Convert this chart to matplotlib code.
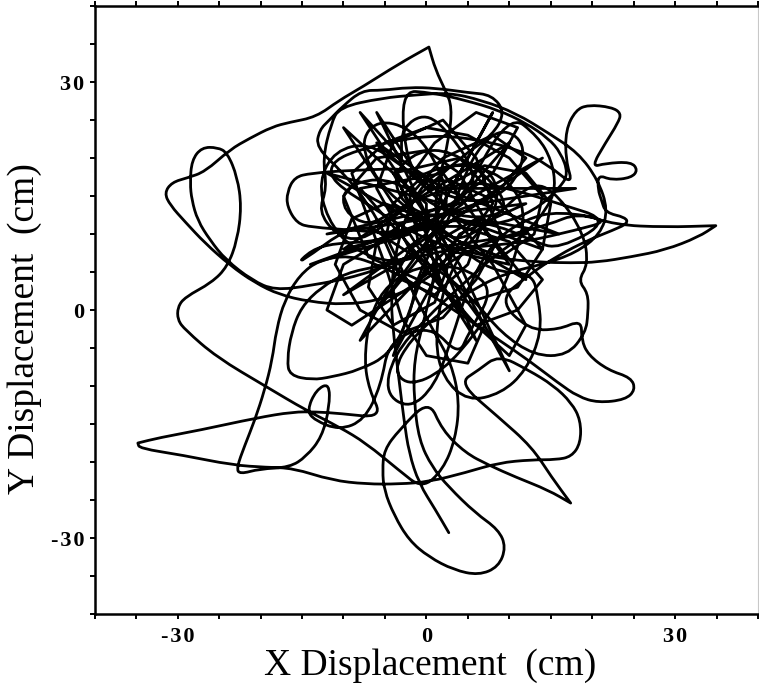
import matplotlib
matplotlib.use("Agg")
import matplotlib.pyplot as plt
import numpy as np
from matplotlib.ticker import FixedLocator, MultipleLocator, FixedFormatter
from matplotlib.path import Path
from matplotlib.patches import PathPatch

plt.rcParams['font.family'] = ['Liberation Serif', 'DejaVu Serif']

# ---- data (cm) ----
seg_center_to_spike = [(2.7,-29.3),(1.1,-26.3),(-0.9,-22.8),(-2.1,-18.8),(-2.7,-14.5),(-3.3,-9.2),(-3.9,-3.9),
    (-4.3,1.3),(-3.9,6.6),(-2.7,11.8),(-0.9,15.8),(1.5,18.4),(5.1,19.5),(7.5,18.4),(8.7,15.8),(8.1,12.5),
    (5.7,9.9),(2.7,9.2),(0.9,12.5),(1.5,17.1),(2.7,22.4),(3.1,26.7),(2.3,28.9),(1.1,31.6),(0.3,34.6),(0.3,34.6),
    (-3.3,32.4),(-7.8,29.3),(-10.5,27.6),(-13.3,25.4),(-16.5,24.7),(-18.6,24.1),(-21.3,22.6),(-23.7,21.1),
    (-26.7,18.2),(-28.8,17.4),(-30.7,16.8),(-31.6,15.4),(-30.9,13.8),(-29.1,11.6),(-26.7,8.8),(-23.7,5.9),
    (-20.7,3.6),(-17.7,2.0),(-14.1,1.1),(-9.9,0.7),(-5.7,1.3),(-2.1,2.6),(1.5,5.3),(5.1,7.9),(9.9,9.9),
    (14.7,11.2),(18.3,12.8),(22.8,11.2),(28.8,10.9),(34.9,11.1),(34.9,11.1),(32.8,9.6),(28.8,7.9),(24.7,7.0),(20.7,6.3),
    (17.5,6.2),(13.5,6.3),(8.7,6.8),(3.9,7.9),(0.3,9.2),(-3.3,11.2),(-6.9,13.8),(-9.9,15.8),(-11.7,17.8),
    (-11.1,19.7),(-8.1,21.1),(-3.3,22.4),(1.5,23.0),(6.3,22.4),(11.1,21.1),(14.7,19.1),(17.7,16.4)]

seg_petal = [(16.8,19.7),(16.8,23.7),(18.0,26.3),(19.5,27.0),(22.3,26.7),(23.5,25.9),(23.1,24.6),(21.6,22.0),
    (19.9,18.8),(21.6,19.3),(24.7,19.5),(25.5,18.4),(24.7,17.4),(22.3,17.1),(20.7,17.8),(20.7,15.8),(21.1,14.5),
    (21.6,12.8),(24.0,12.2),(24.3,11.4),(22.5,10.5),(19.5,9.2),(15.9,7.2),(12.3,4.6),(8.7,1.3)]

seg_right_loop = [(12.3,-2.6),(15.9,-2.6),(18.7,-1.3),(18.7,-3.9),(19.5,-5.9),(21.9,-7.9),(24.7,-8.9),(25.2,-10.5),
    (24.0,-11.8),(20.7,-12.2),(18.3,-11.4),(15.9,-9.6),(12.3,-6.6),(8.7,-3.9),(5.1,-1.3),(1.5,1.3),(-2.1,3.9),
    (-5.7,5.9),(-9.3,7.2)]

seg_lower_left = [(-12.9,6.6),(-15.3,4.6),(-17.1,1.3),(-18.1,-2.6),(-18.6,-6.6),(-19.5,-10.5),(-20.7,-14.5),
    (-21.9,-17.8),(-22.9,-20.8),(-22.5,-21.6),(-20.1,-20.9),(-16.5,-20.7),(-14.5,-19.3),(-12.6,-16.7),(-11.7,-12.8),
    (-11.7,-9.6),(-13.3,-10.5),(-14.4,-13.2),(-13.5,-14.5),(-10.5,-15.8),(-7.5,-14.5),(-5.5,-10.0),(-4.5,-4.0)]

seg_left_spike = [(0.5,-2.0),(3.9,-6.0),(5.1,-3.0),(8.1,2.6),(5.1,5.3),(1.5,5.9),(-2.1,5.3),(-5.3,2.6),(-6.9,-1.3),
    (-7.5,-6.6),(-6.9,-10.5),(-5.3,-14.2),(-10.5,-13.6),(-13.3,-13.4),(-16.1,-13.4),(-20.5,-14.2),(-27.3,-15.8),
    (-32.2,-16.8),(-34.8,-17.5),(-34.8,-17.5),(-34.6,-18.2),(-29.4,-19.1),(-23.4,-20.4),(-19.3,-20.7),(-16.1,-20.8),(-11.4,-22.4),
    (-7.3,-22.9),(-3.3,-22.9),(0.3,-22.6),(4.7,-21.4),(8.7,-20.1),(12.7,-19.7),(15.6,-19.7),(17.5,-19.3),
    (18.6,-17.5),(18.6,-14.5),(17.5,-12.2),(15.3,-9.9),(12.3,-7.9),(8.7,-5.9),(6.3,-7.9),(3.9,-9.6),(8.7,-14.1),
    (12.7,-18.0),(15.1,-22.0),(17.4,-25.4),(17.4,-25.4),(14.7,-23.7),(10.8,-22.0),(7.5,-20.4),(4.7,-18.8),(1.9,-15.8),(0.3,-11.8)]

seg_bottom_loop = [(-3.3,-15.8),(-5.1,-18.4),(-5.3,-21.1),(-5.1,-23.7),(-3.9,-27.0),(-2.1,-30.3),(0.3,-32.5),
    (3.3,-34.2),(6.3,-34.9),(8.7,-33.8),(9.6,-31.2),(8.7,-28.9),(5.9,-26.7),(2.7,-23.3),(0.7,-20.7),(-0.9,-17.1),
    (-1.5,-11.8),(-1.5,-6.6),(-0.3,-1.3),(0.9,3.9),(1.5,9.2),(-2.0,7.0),(-8.0,4.5),(-14.0,3.2),(-18.3,2.6)]

seg_top_left_loop = [(-21.0,3.9),(-24.2,6.6),(-26.1,9.2),(-27.6,11.8),(-28.3,14.5),(-28.5,16.7),(-28.3,19.7),
    (-27.1,21.4),(-25.2,21.4),(-24.0,20.7),(-22.8,17.5),(-22.3,13.6),(-22.8,9.2),(-24.0,5.7),(-25.9,3.6),
    (-29.1,1.7),(-30.0,0.4),(-30.0,-1.3),(-29.1,-2.6),(-25.3,-6.2),(-19.3,-10.1),(-14.5,-13.2),(-10.5,-15.4),
    (-7.3,-17.5),(-3.3,-21.1),(-0.5,-23.5),(2.0,-21.0),(3.5,-17.0),(4.0,-12.0),(3.0,-7.0),(1.0,-3.0)]

seg_top_arcs = [(-2.0,3.0),(-4.5,9.0),(-7.0,14.0),(-10.0,18.0),(-13.3,21.4),(-12.9,23.7),(-11.7,25.0),
    (-10.2,26.7),(-7.8,28.9),(-5.3,28.9),(-2.1,29.3),(1.1,29.2),(5.1,28.6),(7.9,28.3),(9.5,26.0),(8.0,23.0),
    (4.0,20.0),(0.0,16.0),(-4.0,12.0),(-8.0,9.0),(-11.0,10.0),(-13.0,13.0),(-12.0,16.0),(-12.5,20.0),
    (-11.5,24.5),(-10.5,26.7),(-5.3,27.9),(-1.3,28.3),(2.7,28.6),(6.7,27.6),(10.8,25.9),(14.7,23.3),(18.3,20.7),
    (20.7,17.1),(21.9,13.2),(21.0,10.0),(18.0,7.5),(14.0,6.0),(10.0,5.0),(6.0,3.0),(2.0,0.0),(-2.0,-4.0),
    (-4.0,-8.0),(-2.0,-10.0),(2.0,-8.0),(6.0,-3.0),(9.0,2.0),(11.0,8.0),(12.0,13.0),(10.0,17.0),(6.0,19.0),
    (2.0,19.0),(-2.0,17.0)]

seg_center_tangle = [(-3.3,28.9),(0.7,28.6),(4.7,27.6),(8.7,26.3),(12.0,24.6),(14.7,22.6),(16.2,20.7),(17.1,18.0),
    (16.2,16.2),(13.0,13.0),(8.0,11.0),(3.0,11.5),(0.1,18.7),(-9.1,18.4),(-13.9,18.0),(-15.9,17.5),(-16.8,15.5),
    (-16.8,13.6),(-15.6,11.4),(-13.9,10.9),(-8.7,10.5),(-4.7,10.1),(0.0,11.0),(4.0,14.0),(9.9,25.9),(13.5,22.8),
    (15.1,19.7),(15.6,16.2),(14.7,13.6),(12.0,10.0),(8.0,7.0),(4.0,3.0),(0.0,-1.0),(-4.0,-6.0),(-5.0,-11.0),
    (-2.0,-13.0),(1.0,-10.0),(3.0,-4.0),(5.0,3.0),(8.0,9.0),(12.0,12.0),(16.0,13.0),(22.3,11.8),(18.0,10.5),
    (12.0,9.0),(8.0,8.5),(3.0,8.0),(-1.0,7.0),(-6.0,5.7),(-9.6,4.9),(-12.7,3.0),(-15.1,0.4),(-16.3,-3.0),
    (-16.8,-6.6),(-16.5,-8.6),(-13.8,-9.2),(-11.4,-8.8),(-8.1,-7.9),(-4.5,-5.9),(-2.0,-1.0),(-1.0,5.0),(2.0,10.0),
    (4.0,16.0),(6.0,21.0),(9.0,24.0),(12.0,22.0),(11.0,17.0),(7.0,14.0),(2.0,15.0),(-3.0,19.0),(-7.0,22.0),
    (-11.0,21.0),(-13.0,17.0),(-12.0,12.0),(-9.0,8.0),(-4.0,6.0),(0.0,8.0),(3.0,14.0),(1.0,20.0),(-2.0,24.0),
    (-6.0,25.0),(-8.0,22.0),(-6.0,17.0),(-2.0,13.0),(3.0,9.0),(8.0,5.0),(12.7,4.9),(13.5,1.7),(13.9,-3.0),
    (12.0,-8.0),(9.0,-11.0),(5.0,-12.0),(2.0,-9.0),(1.0,-4.0),(2.0,3.0),(5.0,9.0),(9.0,13.0),(13.0,17.0),
    (16.0,15.0),(19.0,10.0),(19.5,6.0),(18.3,3.9),(19.5,2.2),(19.5,-0.4),(19.2,-3.0),(17.0,-6.0),(13.0,-6.0),
    (9.0,-3.0),(6.0,1.0),(2.0,5.0),(-3.0,8.0),(-8.0,12.0),(-15.9,5.7),(-13.9,7.9),(-11.1,8.8),(-6.0,9.0),
    (-1.0,11.0),(4.0,12.0),(9.0,11.0),(13.0,9.0),(16.0,8.0),(22.3,11.8),(16.0,14.0),(10.0,16.0),(5.0,17.0),
    (0.0,15.0),(-4.0,13.0),(-7.0,11.0),(-10.0,13.0),(-10.0,16.0),(-6.0,17.5),(-2.0,16.0),(2.0,13.0),(6.0,12.0),
    (10.0,13.0),(8.0,17.0),(3.0,21.0),(-1.0,21.0),(-4.0,18.0),(-3.0,14.0),(1.0,12.0),(5.0,14.0),(6.0,18.0),
    (3.0,23.0),(0.0,26.0),(-3.0,24.0),(-3.0,20.0)]

# straighter strokes criss-crossing the dense core
seg_center_extra = [(-8.0,26.0),(-5.0,21.0),(2.0,14.0),(8.0,6.0),(12.0,-2.0),(10.0,-6.0),(4.0,0.0),(-2.0,8.0),
    (-6.0,16.0),(-4.0,22.0),(2.0,25.0),(6.0,20.0),(8.0,14.0),(4.0,8.0),(-2.0,3.0),(-9.0,-2.0),(-12.0,0.0),
    (-10.0,6.0),(-4.0,10.0),(2.0,11.0),(9.0,16.0),(12.0,20.0),(8.0,23.0),(2.0,20.0),(-2.0,15.0),(-1.0,9.0),
    (3.0,4.0),(7.0,-2.0),(5.0,-7.0),(0.0,-6.0),(-3.0,-1.0),(-5.0,6.0),(-7.0,12.0),(-9.0,18.0),(-5.0,22.0),
    (0.0,24.0),(5.0,23.0),(10.0,20.0),(14.0,15.0),(13.0,10.0),(9.0,7.0),(4.0,9.0),(0.0,12.0),(-5.0,14.0),
    (-9.0,12.0),(-11.0,6.0),(-8.0,0.0),(-3.0,-3.0),(2.0,-1.0),(6.0,4.0),(9.0,10.0),(7.0,15.0),(3.0,17.0),
    (-1.0,17.0),(-4.0,14.0),(-5.0,9.0),(-3.0,4.0),(1.0,2.0),(5.0,6.0),(7.0,12.0),(4.0,18.0),(0.0,21.0),
    (-6.0,20.0),(-10.0,15.0),(-7.0,7.0),(-1.0,4.0),(5.0,1.0),(11.0,3.0),(14.0,8.0),(15.0,14.0),(12.0,18.0),
    (7.0,19.0),(2.0,16.0),(1.0,12.0),(3.0,7.0),(1.0,1.0),(-4.0,-2.0),(-7.0,3.0),(-6.0,9.0),(-2.0,12.0),
    (3.0,14.0),(8.0,18.0),(11.0,24.0),(6.0,26.0),(1.0,22.0),(-3.0,16.0),(-1.0,11.0),(4.0,11.0),(10.0,9.0),
    (14.0,4.0),(11.0,0.0),(6.0,-2.0),(2.0,3.0),(0.0,9.0),(0.0,14.0)]

seg_core_lines = [(-10.0,24.0),(-4.0,14.0),(12.0,4.0),(6.0,12.0),(-8.0,-4.0),(-2.0,8.0),(14.0,20.0),(4.0,14.0),
    (-12.0,10.0),(0.0,12.0),(10.0,-8.0),(4.0,6.0),(-6.0,22.0),(2.0,16.0),(16.0,10.0),(6.0,12.0),(-10.0,2.0),
    (0.0,10.0),(8.0,26.0),(2.0,14.0),(-12.0,18.0),(-2.0,12.0),(12.0,14.0),(4.0,10.0),(-4.0,-6.0),(0.0,6.0),
    (-8.0,16.0),(2.0,18.0),(10.0,6.0),(2.0,8.0),(-6.0,26.0),(0.0,16.0),(18.0,16.0),(6.0,14.0),(-14.0,6.0),
    (-2.0,10.0),(6.0,-4.0),(2.0,6.0),(-4.0,18.0),(4.0,20.0),(14.0,8.0),(4.0,12.0),(-10.0,8.0),(-2.0,14.0),
    (10.0,22.0),(2.0,12.0),(-6.0,0.0),(0.0,8.0),(12.0,10.0)]

smooth_segments = [seg_center_to_spike, seg_petal, seg_right_loop, seg_lower_left, seg_left_spike,
                   seg_bottom_loop, seg_top_left_loop, seg_top_arcs, seg_center_tangle]
straight_segments = [seg_center_extra, seg_core_lines]

tick_values = [-30, 0, 30]
tick_labels = ["-\u200a3\u200a0", "0", "3\u200a0"]
x_label = "X Displacement  (cm)"
y_label = "Y Displacement  (cm)"

# ---- figure ----
fig = plt.figure(figsize=(7.59, 6.84), dpi=100)
ax = fig.add_axes([0.1248, 0.1023, 0.874, 0.8889])

pts = np.array([p for s in smooth_segments for p in s], dtype=float)
# smooth rendering of the recorded path (quadratic Bezier through the read points)
verts = [pts[0], (pts[0] + pts[1]) / 2]
codes = [Path.MOVETO, Path.LINETO]
for i in range(1, len(pts) - 1):
    verts += [pts[i], (pts[i] + pts[i + 1]) / 2]
    codes += [Path.CURVE3, Path.CURVE3]
verts.append(pts[-1])
codes.append(Path.LINETO)
ax.add_patch(PathPatch(Path(verts, codes), facecolor="none", edgecolor="black",
                       lw=2.0, joinstyle="round", capstyle="round"))

# continuation of the same path with straighter strokes
rest = np.array([pts[-1]] + [p for s in straight_segments for p in s], dtype=float)
ax.plot(rest[:, 0], rest[:, 1], color="black", lw=2.0,
        solid_joinstyle="round", solid_capstyle="round")

ax.set_xlim(-40, 40)
ax.set_ylim(-40, 40)
for axis in (ax.xaxis, ax.yaxis):
    axis.set_major_locator(FixedLocator(tick_values))
    axis.set_major_formatter(FixedFormatter(tick_labels))
    axis.set_minor_locator(MultipleLocator(5))

ax.tick_params(axis="x", which="both", direction="out", top=True, bottom=True,
               length=3.5, width=1.4, pad=6)
ax.tick_params(axis="y", which="both", direction="out", left=True, right=False,
               length=3.5, width=1.4, pad=4)
for lab in ax.get_xticklabels() + ax.get_yticklabels():
    lab.set_fontsize(16)
    lab.set_fontweight("bold")

for side in ("left", "bottom", "top"):
    ax.spines[side].set_linewidth(1.8)
ax.spines["right"].set_color("#c8c8c8")
ax.spines["right"].set_linewidth(0.8)

ax.set_xlabel(x_label, fontsize=27)
ax.set_ylabel(y_label, fontsize=27)
ax.xaxis.set_label_coords(0.505, -0.056)
ax.yaxis.set_label_coords(-0.08, 0.47)

fig.savefig("out.png", dpi=100)
